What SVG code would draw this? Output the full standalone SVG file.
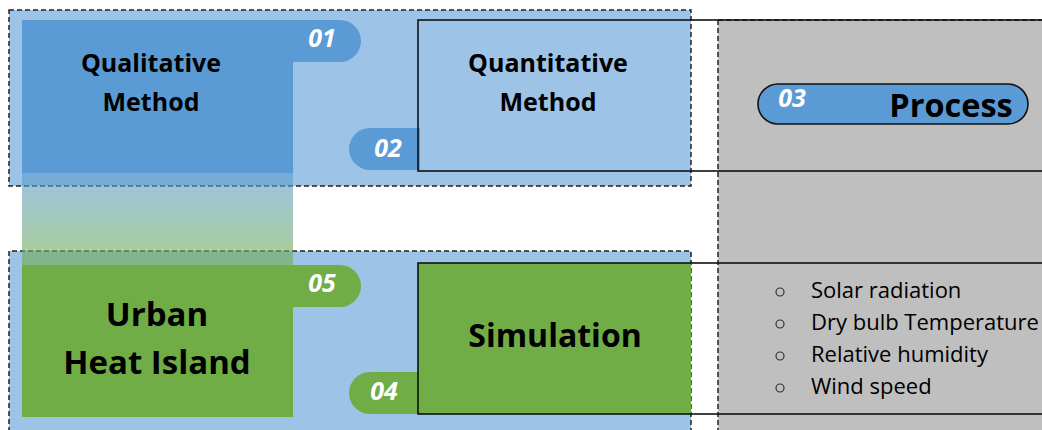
<svg xmlns="http://www.w3.org/2000/svg" width="1042" height="430" viewBox="0 0 1042 430">
<style>
.dash{fill:#9DC3E6;stroke:#222;stroke-width:1.5;stroke-dasharray:5,3}
.blue{fill:#5B9BD5}
.green{fill:#70AD47}
.out{fill:none;stroke:#111;stroke-width:1.6}
.num{font-family:"Open Sans",Lato,sans-serif;font-weight:700;font-style:italic;font-size:25px;fill:#fff;text-anchor:middle}
.lbl{font-family:"Open Sans",Lato,sans-serif;font-weight:700;fill:#000;text-anchor:middle}
.item{font-family:"Open Sans",Lato,sans-serif;font-size:22px;fill:#000}
.bul{fill:none;stroke:#333;stroke-width:1.2}
</style>
<defs>
<linearGradient id="fade" x1="0" y1="0" x2="0" y2="1">
<stop offset="0" stop-color="#5B9BD5"/>
<stop offset="1" stop-color="#70AD47"/>
</linearGradient>
</defs>
<rect width="1042" height="430" fill="#fff"/>
<g id="group-top"><rect class="dash" x="9" y="10" width="682" height="176"/></g>
<g id="group-bottom"><path d="M9,440 V251 H691 V440" class="dash"/></g>
<g id="process-panel">
<rect x="718" y="20" width="340" height="420" fill="#BFBFBF"/>
<line x1="718" y1="20" x2="718" y2="430" stroke="#222" stroke-width="1.5" stroke-dasharray="5,3"/>
<line x1="718" y1="20" x2="1042" y2="20" stroke="#222" stroke-width="1.5" stroke-dasharray="5,3"/>
</g>
<g id="qualitative">
<rect class="blue" x="22" y="20" width="271" height="153"/>
<text class="lbl" font-size="25" x="151" y="72">Qualitative</text>
<text class="lbl" font-size="25" x="151" y="111">Method</text>
</g>
<g id="uhi">
<rect class="green" x="22" y="265" width="271" height="152"/>
<text class="lbl" font-size="33" x="157" y="326">Urban</text>
<text class="lbl" font-size="33" x="157" y="374">Heat Island</text>
</g>
<g id="connectors">
<rect x="22" y="173" width="271" height="92" fill="url(#fade)" opacity="0.6"/>
</g>
<g id="tab01"><path class="blue" d="M293,20 H340 A21,21 0 0 1 340,62 H293 Z"/><text class="num" x="322" y="47">01</text></g>
<g id="tab02"><path class="blue" d="M420,128 H370 A21,21 0 0 0 370,170 H420 Z"/><text class="num" x="388" y="157">02</text></g>
<g id="tab05"><path class="green" d="M293,265 H340 A21,21 0 0 1 340,307 H293 Z"/><text class="num" x="322" y="292">05</text></g>
<g id="tab04"><path class="green" d="M420,372 H370 A21,21 0 0 0 370,414 H420 Z"/><text class="num" x="384" y="400">04</text></g>
<g id="quantitative">
<rect class="out" x="418" y="20" width="650" height="151"/>
<text class="lbl" font-size="25" font-weight="600" x="548" y="72">Quantitative</text>
<text class="lbl" font-size="25" font-weight="600" x="548" y="111">Method</text>
</g>
<g id="simulation">
<rect class="green" x="418" y="263" width="273" height="151"/>
<rect class="out" x="418" y="263" width="650" height="151"/>
<text class="lbl" font-size="32" x="555" y="347">Simulation</text>
</g>
<g id="process">
<rect x="758" y="84" width="270" height="40" rx="20" fill="#5B9BD5" stroke="#111" stroke-width="1.6"/>
<text class="num" x="792" y="107">03</text>
<text class="lbl" font-size="32.5" x="951" y="117">Process</text>
</g>
<g id="params">
<circle class="bul" cx="780" cy="292" r="4"/><text class="item" x="811" y="298">Solar radiation</text>
<circle class="bul" cx="780" cy="324" r="4"/><text class="item" x="811" y="330">Dry bulb Temperature</text>
<circle class="bul" cx="780" cy="356" r="4"/><text class="item" x="811" y="362">Relative humidity</text>
<circle class="bul" cx="780" cy="388" r="4"/><text class="item" x="811" y="394">Wind speed</text>
</g>
</svg>
